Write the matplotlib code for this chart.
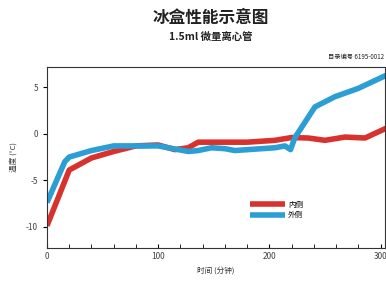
import numpy as np
import matplotlib
matplotlib.use('Agg')
import matplotlib.pyplot as plt

plt.rcParams['font.family'] = ['Noto Sans CJK SC', 'DejaVu Sans']
plt.rcParams['axes.unicode_minus'] = False

# 数据
t_inner = [0, 20, 40, 60, 80, 100, 115, 127, 136, 160, 180, 205, 220, 235, 250, 268, 286, 305]
T_inner = [-9.9, -3.9, -2.6, -1.9, -1.3, -1.2, -1.7, -1.5, -0.9, -0.9, -0.9, -0.7, -0.4, -0.45, -0.7, -0.35, -0.45, 0.6]

t_outer = [0, 16, 20, 40, 60, 80, 100, 118, 127, 136, 148, 160, 169, 181, 205, 214, 219, 223, 241, 259, 280, 305]
T_outer = [-7.4, -3.0, -2.5, -1.8, -1.3, -1.3, -1.3, -1.7, -1.9, -1.8, -1.5, -1.6, -1.8, -1.7, -1.5, -1.3, -1.7, -0.4, 2.9, 4.0, 4.9, 6.3]

labels = ['内侧', '外侧']
colors = ['#d8322e', '#2b9ed6']

fig = plt.figure(figsize=(3.86, 2.84), dpi=100)
ax = fig.add_axes([47 / 386, 1 - 248 / 284, 338 / 386, 181 / 284])

ax.plot(t_inner, T_inner, color=colors[0], linewidth=4.0, label=labels[0], solid_capstyle='butt')
ax.plot(t_outer, T_outer, color=colors[1], linewidth=4.0, label=labels[1], solid_capstyle='butt')

ax.set_xlim(0, 304)
ax.set_ylim(-12.3, 7.2)
ax.set_xticks([0, 100, 200, 300])
ax.set_xticks(np.arange(0, 301, 20), minor=True)
ax.set_yticks([-10, -5, 0, 5])
ax.tick_params(axis='x', direction='in', length=3, labelsize=6, labelcolor='#444444', pad=3)
ax.tick_params(axis='x', which='minor', direction='in', length=3)
ax.tick_params(axis='y', direction='out', length=3, labelsize=6, labelcolor='#444444')
for s in ax.spines.values():
    s.set_linewidth(0.8)
    s.set_color('#333333')

ax.set_xlabel('时间 (分钟)', fontsize=5.5, color='#333333', labelpad=4)
ax.set_ylabel('温度 (°C)', fontsize=5.5, color='#333333', labelpad=6)

ax.legend(loc='lower left', bbox_to_anchor=(0.58, 0.12), frameon=False, fontsize=5.5,
          handlelength=4.6, handletextpad=0.4, labelspacing=0.3)

fig.text(0.545, 0.937, '冰盒性能示意图', ha='center', va='center', fontsize=12, fontweight='bold', color='#222222')
fig.text(0.545, 0.87, '1.5ml 微量离心管', ha='center', va='center', fontsize=7.5, fontweight='bold', color='#222222')
fig.text(0.995, 0.80, '目录编号 6195-0012', ha='right', va='center', fontsize=4.5, color='#222222')

plt.savefig('out.png', dpi=100)
